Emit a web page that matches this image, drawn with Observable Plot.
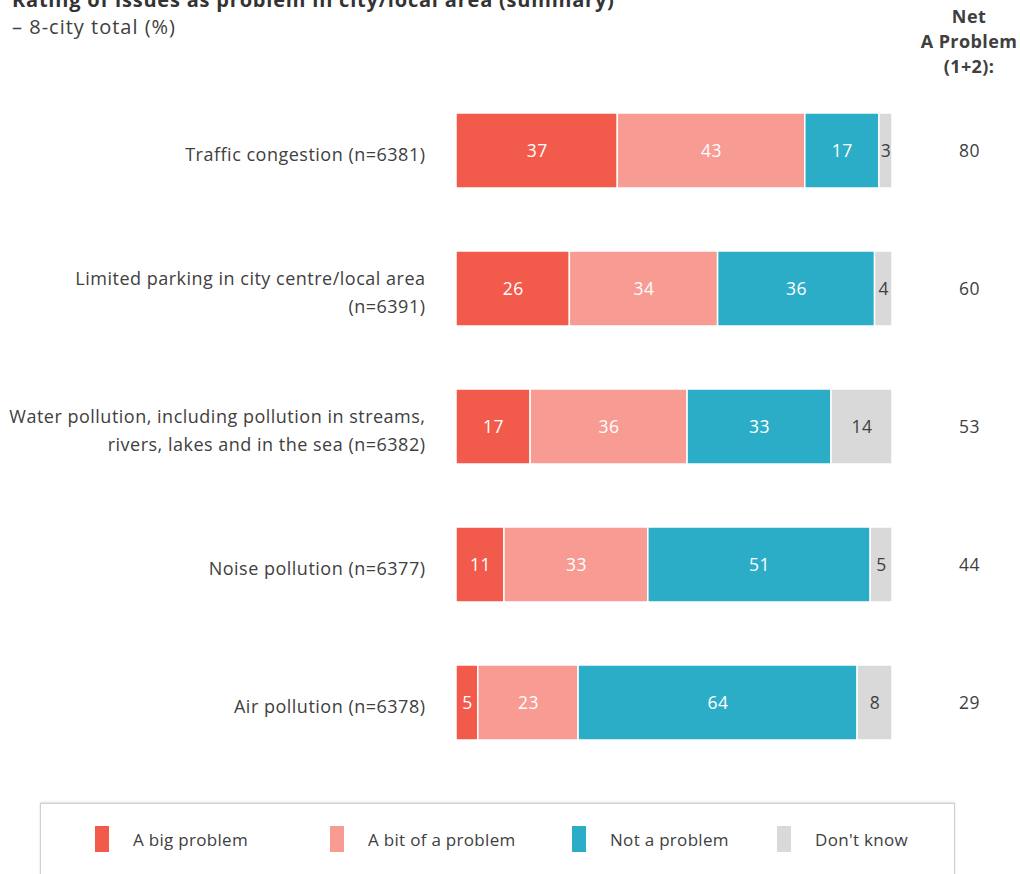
<!DOCTYPE html>
<html>
<head>
<meta charset="utf-8">
<script src="https://cdn.jsdelivr.net/npm/d3@7"></script>
<script src="https://cdn.jsdelivr.net/npm/@observablehq/plot@0.6"></script>
<style>
  body { margin: 0; background: #fff; font-family: "Open Sans", sans-serif; color: #404040; }
  #wrap { position: relative; width: 1020px; height: 874px; overflow: hidden; }
  #title { position: absolute; left: 12px; top: -14px; font-size: 20px; letter-spacing: 0.8px; font-weight: bold; color: #333; white-space: nowrap; }
  #subtitle { position: absolute; left: 12px; top: 13px; font-size: 20px; letter-spacing: 1px; color: #404040; white-space: nowrap; }
  #nethead { position: absolute; left: 909px; top: 4px; width: 120px; text-align: center; font-size: 18px; letter-spacing: 0.4px; font-weight: bold; line-height: 25px; color: #404040; }
  #chart { position: absolute; left: 0; top: 0; }
  #legend { position: absolute; left: 40px; top: 803px; width: 913px; height: 90px; border: 1px solid #d0d0d0; box-shadow: 0 -1px 2px #ddd; }
  .item { position: absolute; top: 22px; height: 26px; display: flex; align-items: center; font-size: 17px; letter-spacing: 0.3px; color: #404040; white-space: nowrap; }
  .sw { width: 14px; height: 26px; margin-right: 24px; }
</style>
</head>
<body>
<div id="wrap">
  <div id="title"></div>
  <div id="subtitle"></div>
  <div id="nethead"></div>
  <div id="chart"></div>
  <div id="legend"></div>
</div>
<script>
const titleText = "Rating of issues as problem in city/local area (summary)";
const subtitleText = "– 8-city total (%)";
const netHeader = ["Net", "A Problem", "(1+2):"];

const issues = [
  "Traffic congestion (n=6381)",
  "Limited parking in city centre/local area\n(n=6391)",
  "Water pollution, including pollution in streams,\nrivers, lakes and in the sea (n=6382)",
  "Noise pollution (n=6377)",
  "Air pollution (n=6378)"
];
const responses = ["A big problem", "A bit of a problem", "Not a problem", "Don't know"];
const bigProblem = [37, 26, 17, 11, 5];
const bitProblem = [43, 34, 36, 33, 23];
const notProblem = [17, 36, 33, 51, 64];
const dontKnow   = [3, 4, 14, 5, 8];
const netProblem = [80, 60, 53, 44, 29];
const colors = ["#F25B4C", "#F79B93", "#2BADC8", "#D9D9D9"];
const labelColors = ["#ffffff", "#ffffff", "#ffffff", "#404040"];

const series = [bigProblem, bitProblem, notProblem, dontKnow];
const rows = [];
issues.forEach((issue, i) => {
  responses.forEach((r, j) => {
    rows.push({issue, response: r, value: series[j][i]});
  });
});
const netRows = issues.map((issue, i) => ({issue, net: netProblem[i]}));

document.getElementById("title").textContent = titleText;
document.getElementById("subtitle").textContent = subtitleText;
document.getElementById("nethead").innerHTML = netHeader.join("<br>");

const stackOpts = {x: "value", y: "issue", z: "response", order: responses};

const chart = Plot.plot({
  width: 1020,
  height: 803,
  marginLeft: 456,
  marginRight: 128,
  marginTop: 49,
  marginBottom: 0,
  style: {fontFamily: "'Open Sans', sans-serif", background: "transparent", letterSpacing: "0.5px"},
  x: {domain: [0, 100], axis: null},
  y: {domain: issues, padding: 0.46, axis: null},
  color: {domain: responses, range: colors},
  marks: [
    Plot.barX(rows, Plot.stackX({...stackOpts, fill: "response", stroke: "#ffffff", strokeWidth: 1.5})),
    Plot.text(rows, Plot.stackX({
      ...stackOpts,
      text: "value",
      fill: d => labelColors[responses.indexOf(d.response)],
      fontSize: 17.5
    })),
    Plot.text(issues, {
      x: 0, y: d => d, text: d => d,
      textAnchor: "end", dx: -31, dy: 1, fontSize: 18, lineHeight: 1.55, fill: "#404040"
    }),
    Plot.text(netRows, {
      x: 100, y: "issue", text: "net",
      dx: 77, fontSize: 17.5, fill: "#404040"
    })
  ]
});
document.getElementById("chart").appendChild(chart);

const legend = document.getElementById("legend");
const legendLeft = [54, 289, 531, 736];
responses.forEach((r, j) => {
  const item = document.createElement("div");
  item.className = "item";
  item.style.left = legendLeft[j] + "px";
  const sw = document.createElement("div");
  sw.className = "sw";
  sw.style.background = colors[j];
  item.appendChild(sw);
  const t = document.createElement("span");
  t.textContent = r;
  item.appendChild(t);
  legend.appendChild(item);
});
</script>
</body>
</html>
